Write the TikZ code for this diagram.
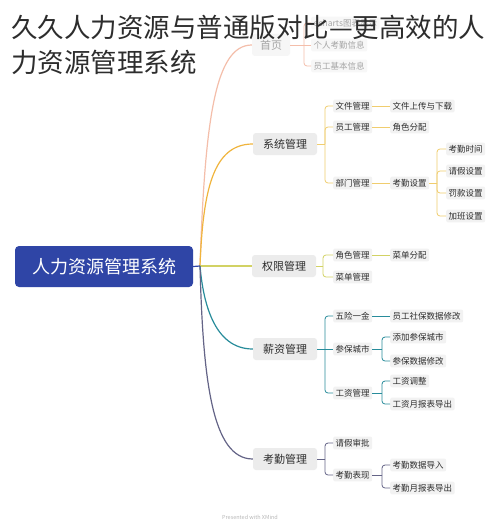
\documentclass[tikz,border=0pt]{standalone}
\usepackage{fontspec}
\setmainfont{Noto Sans CJK SC}
\definecolor{rootblue}{RGB}{47,69,166}
\definecolor{cHome}{RGB}{244,190,170}
\definecolor{cSys}{RGB}{240,180,60}
\definecolor{cSysL}{RGB}{240,205,110}
\definecolor{cPerm}{RGB}{210,210,100}
\definecolor{cPay}{RGB}{40,140,155}
\definecolor{cAtt}{RGB}{100,100,135}
\definecolor{boxgray}{RGB}{236,236,236}
\definecolor{leafgray}{RGB}{242,242,242}
\definecolor{txt}{RGB}{45,45,45}
\definecolor{faded}{RGB}{165,165,165}
\tikzset{
  rootbox/.style={fill=rootblue, text=white, rounded corners=4pt, minimum width=178pt, minimum height=41pt, font=\fontsize{18}{20}\selectfont},
  branch/.style={fill=boxgray, text=txt, rounded corners=3pt, inner xsep=10pt, minimum height=22pt, font=\fontsize{11}{13}\selectfont},
  homebranch/.style={branch, fill=leafgray!70, text=faded, inner xsep=8pt},
  leaf/.style={fill=leafgray, text=txt, rounded corners=2pt, inner sep=2.5pt, anchor=west, font=\fontsize{8.5}{10}\selectfont},
  homeleaf/.style={leaf, fill=leafgray!60, text=faded},
  conn/.style={line width=0.8pt, rounded corners=3pt},
  trunkline/.style={line width=1.2pt}
}
\begin{document}
\begin{tikzpicture}[x=1pt,y=-1pt]
\useasboundingbox[fill=white] (0,0) rectangle (500,532);

% home branch (behind the title)
\node[homebranch] (home) at (271,45) {首页};
\node[homeleaf] (h1) at (311,23) {echarts图表显示};
\node[homeleaf] (h2) at (311,45) {个人考勤信息};
\node[homeleaf] (h3) at (311,66) {员工基本信息};
\coordinate (hj) at (304,45);
\draw[conn, cHome] (home.east) -- (hj);
\draw[conn, cHome] (hj) |- (h1.west);
\draw[conn, cHome] (hj) -- (h2.west);
\draw[conn, cHome] (hj) |- (h3.west);

% title
\node[anchor=west, inner sep=0pt, text=txt, font=\fontsize{26.5}{30}\selectfont] (t1) at (11,27) {久久人力资源与普通版对比—更高效的人};
\node[anchor=west, inner sep=0pt, text=txt, font=\fontsize{26.5}{30}\selectfont] (t2) at (11,62) {力资源管理系统};

% root
\node[rootbox] (root) at (104,266.5) {人力资源管理系统};

% branches
\node[branch] (sys) at (285,144) {系统管理};
\node[branch] (perm) at (284,266) {权限管理};
\node[branch] (pay) at (285,349) {薪资管理};
\node[branch] (att) at (285,459) {考勤管理};

\coordinate (tr) at (200,266);
\draw[trunkline, cHome] (tr) .. controls (205,120) and (215,45) .. (home.west);
\draw[trunkline, cSys] (tr) .. controls (203,190) and (213,144) .. (sys.west);
\draw[trunkline, cPerm] (tr) -- (perm.west);
\draw[trunkline, cPay] (tr) .. controls (203,300) and (213,349) .. (pay.west);
\draw[trunkline, cAtt] (tr) .. controls (203,380) and (212,459) .. (att.west);
\draw[trunkline, rootblue] (root.east) -- (tr);

% system management
\node[leaf] (s1) at (333,106) {文件管理};
\node[leaf] (s1a) at (390,106) {文件上传与下载};
\node[leaf] (s2) at (333,127) {员工管理};
\node[leaf] (s2a) at (390,127) {角色分配};
\node[leaf] (s3) at (333,183) {部门管理};
\node[leaf] (s3a) at (390,183) {考勤设置};
\node[leaf] (s3a1) at (446,149) {考勤时间};
\node[leaf] (s3a2) at (446,171) {请假设置};
\node[leaf] (s3a3) at (446,193) {罚款设置};
\node[leaf] (s3a4) at (446,216) {加班设置};
\coordinate (sj) at (325,144);
\draw[conn, cSysL] (sys.east) -- (sj);
\draw[conn, cSysL] (sj) |- (s1.west);
\draw[conn, cSysL] (sj) |- (s2.west);
\draw[conn, cSysL] (sj) |- (s3.west);
\draw[conn, cSysL] (s1.east) -- (s1a.west);
\draw[conn, cSysL] (s2.east) -- (s2a.west);
\draw[conn, cSysL] (s3.east) -- (s3a.west);
\coordinate (sk) at (437,183);
\draw[conn, cSysL] (s3a.east) -- (sk);
\draw[conn, cSysL] (sk) |- (s3a1.west);
\draw[conn, cSysL] (sk) |- (s3a2.west);
\draw[conn, cSysL] (sk) |- (s3a3.west);
\draw[conn, cSysL] (sk) |- (s3a4.west);

% permissions
\node[leaf] (p1) at (333,255) {角色管理};
\node[leaf] (p1a) at (390,255) {菜单分配};
\node[leaf] (p2) at (333,277) {菜单管理};
\coordinate (pj) at (323,266);
\draw[conn, cPerm] (perm.east) -- (pj);
\draw[conn, cPerm] (pj) |- (p1.west);
\draw[conn, cPerm] (pj) |- (p2.west);
\draw[conn, cPerm] (p1.east) -- (p1a.west);

% payroll
\node[leaf] (y1) at (333,316) {五险一金};
\node[leaf] (y1a) at (390,316) {员工社保数据修改};
\node[leaf] (y2) at (333,349) {参保城市};
\node[leaf] (y2a) at (390,337) {添加参保城市};
\node[leaf] (y2b) at (390,361) {参保数据修改};
\node[leaf] (y3) at (333,393) {工资管理};
\node[leaf] (y3a) at (390,381) {工资调整};
\node[leaf] (y3b) at (390,404) {工资月报表导出};
\coordinate (yj) at (325,349);
\draw[conn, cPay] (pay.east) -- (yj);
\draw[conn, cPay] (yj) |- (y1.west);
\draw[conn, cPay] (yj) -- (y2.west);
\draw[conn, cPay] (yj) |- (y3.west);
\draw[conn, cPay] (y1.east) -- (y1a.west);
\coordinate (yk) at (382,349);
\draw[conn, cPay] (y2.east) -- (yk);
\draw[conn, cPay] (yk) |- (y2a.west);
\draw[conn, cPay] (yk) |- (y2b.west);
\coordinate (yl) at (382,393);
\draw[conn, cPay] (y3.east) -- (yl);
\draw[conn, cPay] (yl) |- (y3a.west);
\draw[conn, cPay] (yl) |- (y3b.west);

% attendance
\node[leaf] (a1) at (333,443) {请假审批};
\node[leaf] (a2) at (333,475) {考勤表现};
\node[leaf] (a2a) at (390,465) {考勤数据导入};
\node[leaf] (a2b) at (390,488) {考勤月报表导出};
\coordinate (aj) at (325,459);
\draw[conn, cAtt] (att.east) -- (aj);
\draw[conn, cAtt] (aj) |- (a1.west);
\draw[conn, cAtt] (aj) |- (a2.west);
\coordinate (ak) at (382,475);
\draw[conn, cAtt] (a2.east) -- (ak);
\draw[conn, cAtt] (ak) |- (a2a.west);
\draw[conn, cAtt] (ak) |- (a2b.west);

\node[text=black!28, font=\fontsize{5.5}{6}\selectfont] (xm) at (250,517) {Presented with XMind};
\end{tikzpicture}
\end{document}
